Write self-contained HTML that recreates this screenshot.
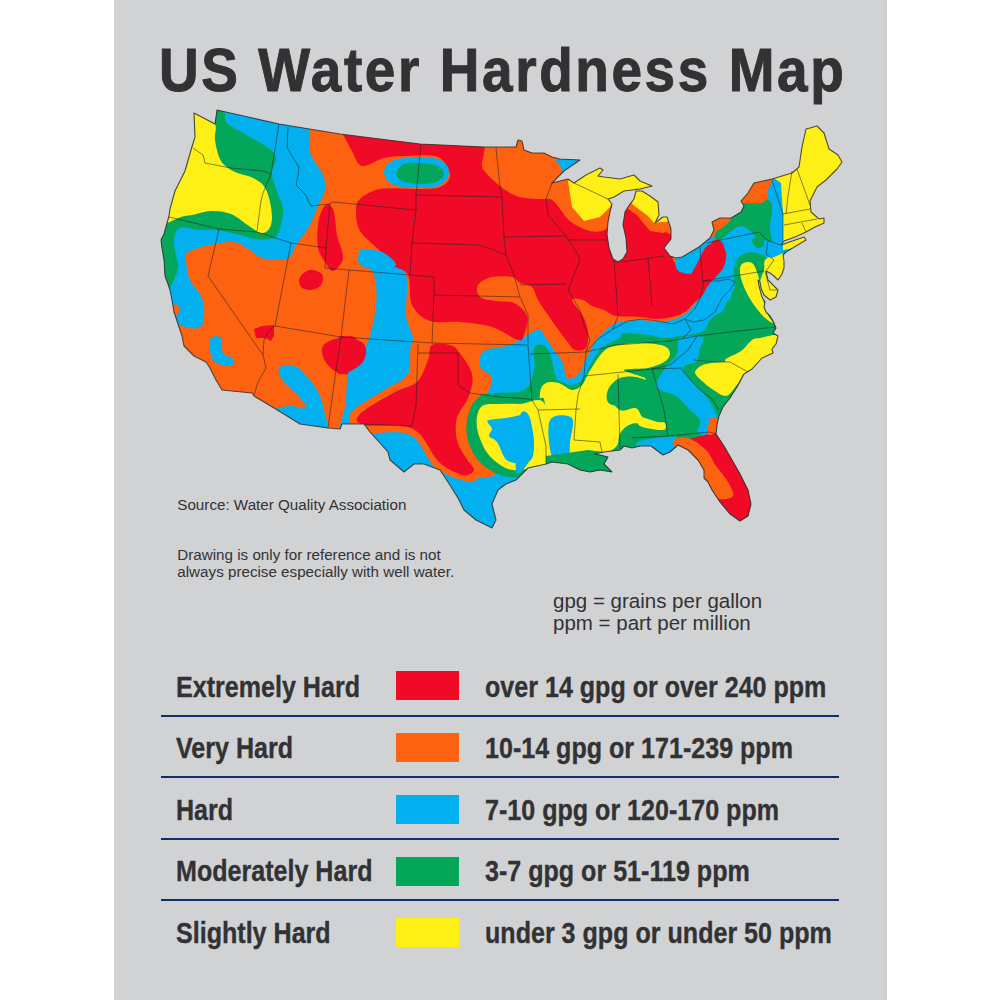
<!DOCTYPE html>
<html><head><meta charset="utf-8">
<style>
html,body{margin:0;padding:0;background:#fff;}
body{width:1000px;height:1000px;position:relative;overflow:hidden;font-family:"Liberation Sans",sans-serif;}
#panel{position:absolute;left:114px;top:0;width:773px;height:1000px;background:#d1d2d4;}
.t{position:absolute;white-space:nowrap;color:#333335;}
#title{left:159px;top:40px;font-size:61px;line-height:61px;letter-spacing:2.9px;transform-origin:0 0;transform:scaleX(0.9);-webkit-text-stroke:1px #323234;font-weight:bold;color:#323234;}
.sm{font-size:15.2px;line-height:16.2px;}
.lg{font-weight:bold;font-size:29.5px;line-height:30px;transform-origin:0 0;transform:scaleX(0.85);-webkit-text-stroke:0.35px #323234;color:#323234;}
.sw{position:absolute;left:396px;width:63px;height:29px;}
.hr{position:absolute;left:161px;width:678px;height:2px;background:#112f6e;}
</style></head><body>
<div id="panel"></div><div style="position:absolute;left:884px;top:0;width:3px;height:1000px;background:#cdced0"></div>
<div id="title" class="t">US Water Hardness Map</div>
<svg width="1000" height="1000" viewBox="0 0 1000 1000" style="position:absolute;left:0;top:0">
<defs><clipPath id="us"><path d="M194.0,113.0 L215.0,124.0 L217.0,110.0 L279.0,124.0 L340.0,134.0 L420.0,144.0 L484.0,147.0 L516.0,147.0 L518.0,140.0 L522.0,141.0 L524.0,150.0 L532.0,153.0 L544.0,153.0 L552.0,157.0 L560.0,159.0 L580.0,160.0 L564.0,171.0 L552.0,183.0 L568.0,179.0 L574.0,183.0 L586.0,175.0 L600.0,168.0 L603.0,170.0 L598.0,176.0 L604.0,177.0 L620.0,179.0 L634.0,175.0 L640.0,181.0 L652.0,186.0 L640.0,189.0 L624.0,191.0 L614.0,197.0 L608.0,199.0 L612.0,204.0 L610.0,212.0 L608.0,222.0 L607.0,234.0 L609.0,248.0 L613.0,259.0 L618.0,262.0 L623.0,259.0 L627.0,252.0 L626.0,238.0 L623.0,225.0 L625.0,212.0 L630.0,204.0 L634.0,199.0 L636.0,191.0 L642.0,191.0 L650.0,196.0 L658.0,202.0 L659.0,215.0 L655.0,223.0 L663.0,217.0 L667.0,217.0 L671.0,229.0 L671.0,239.0 L664.0,248.0 L670.0,256.0 L676.0,258.0 L682.0,257.0 L699.0,247.0 L710.0,238.0 L714.0,230.0 L712.0,222.0 L720.0,218.0 L731.0,218.0 L741.0,212.0 L744.0,206.0 L741.0,201.0 L748.0,193.0 L754.0,183.0 L772.0,179.0 L792.0,173.0 L799.0,167.0 L802.0,147.0 L806.0,129.0 L810.0,128.0 L817.0,126.0 L824.0,133.0 L829.0,149.0 L838.0,155.0 L842.0,162.0 L837.0,169.0 L826.0,180.0 L817.0,187.0 L810.0,201.0 L811.0,212.0 L819.0,219.0 L824.0,218.0 L824.0,223.0 L815.0,227.0 L806.0,232.0 L795.0,237.0 L784.0,241.0 L781.0,245.0 L804.0,237.0 L806.0,240.0 L786.0,252.0 L783.0,255.0 L784.0,261.0 L784.0,268.0 L782.0,274.0 L778.0,280.0 L774.0,276.0 L770.0,273.0 L766.0,271.0 L768.0,280.0 L774.0,286.0 L778.0,290.0 L776.0,297.0 L770.0,300.0 L764.0,295.0 L761.0,288.0 L760.0,282.0 L758.0,280.0 L759.0,286.0 L762.0,297.0 L765.0,302.0 L764.0,307.0 L766.0,312.0 L770.0,316.0 L773.0,321.0 L776.0,328.0 L773.0,333.0 L778.0,336.0 L776.0,344.0 L772.0,349.0 L773.0,353.0 L762.0,358.0 L752.0,369.0 L744.0,374.0 L737.0,387.0 L730.0,398.0 L723.0,407.0 L719.0,416.0 L717.0,425.0 L716.0,434.0 L724.0,446.0 L732.0,460.0 L740.0,474.0 L748.0,490.0 L751.0,504.0 L748.0,516.0 L740.0,521.0 L730.0,514.0 L720.0,502.0 L712.0,490.0 L708.0,482.0 L704.0,478.0 L704.0,470.0 L698.0,460.0 L688.0,450.0 L678.0,445.0 L670.0,452.0 L663.0,455.0 L651.0,446.0 L640.0,446.0 L632.0,448.0 L624.0,446.0 L620.0,450.0 L604.0,452.0 L594.0,454.0 L600.0,455.0 L608.0,457.0 L604.0,464.0 L612.0,472.0 L600.0,470.0 L590.0,472.0 L580.0,470.0 L568.0,464.0 L552.0,462.0 L546.0,464.0 L528.0,468.0 L520.0,476.0 L516.0,480.0 L506.0,484.0 L498.0,490.0 L492.0,504.0 L496.0,520.0 L492.0,528.0 L476.0,520.0 L464.0,510.0 L458.0,498.0 L448.0,482.0 L440.0,470.0 L424.0,464.0 L414.0,464.0 L404.0,472.0 L390.0,460.0 L388.0,452.0 L370.0,432.0 L364.0,424.0 L342.0,424.0 L340.0,429.0 L328.0,428.0 L300.0,424.0 L274.0,408.0 L254.0,396.0 L252.0,393.0 L222.0,390.0 L216.0,380.0 L210.0,368.0 L206.0,362.0 L194.0,356.0 L184.0,346.0 L182.0,336.0 L178.0,324.0 L174.0,312.0 L172.0,300.0 L170.0,290.0 L168.0,284.0 L165.0,276.0 L164.0,260.0 L162.0,248.0 L161.0,240.0 L164.0,234.0 L169.0,216.0 L170.0,209.0 L175.0,191.0 L185.0,171.0 L191.0,150.0 L195.0,137.0Z"/></clipPath></defs>
<g clip-path="url(#us)">
<rect x="100" y="90" width="800" height="460" fill="#fd6211"/>
<path d="M150.0,100.0 C176.3,66.7 281.3,96.0 308.0,100.0 C334.7,104.0 309.7,117.3 310.0,124.0 C310.3,130.7 309.8,134.8 310.0,140.0 C310.2,145.2 308.8,149.2 311.0,155.0 C313.2,160.8 320.7,169.2 323.0,175.0 C325.3,180.8 326.0,184.5 325.0,190.0 C324.0,195.5 319.7,201.8 317.0,208.0 C314.3,214.2 312.5,220.8 309.0,227.0 C305.5,233.2 299.2,240.0 296.0,245.0 C292.8,250.0 292.7,254.5 290.0,257.0 C287.3,259.5 284.7,259.8 280.0,260.0 C275.3,260.2 267.0,259.7 262.0,258.0 C257.0,256.3 254.7,252.7 250.0,250.0 C245.3,247.3 239.7,243.0 234.0,242.0 C228.3,241.0 222.0,243.0 216.0,244.0 C210.0,245.0 203.0,246.3 198.0,248.0 C193.0,249.7 188.0,251.7 186.0,254.0 C184.0,256.3 185.3,257.7 186.0,262.0 C186.7,266.3 187.3,274.0 190.0,280.0 C192.7,286.0 199.7,291.7 202.0,298.0 C204.3,304.3 204.7,313.0 204.0,318.0 C203.3,323.0 202.3,327.0 198.0,328.0 C193.7,329.0 186.0,328.7 178.0,324.0 C170.0,319.3 154.7,337.3 150.0,300.0 C145.3,262.7 123.7,133.3 150.0,100.0Z" fill="#02b0f0"/>
<path d="M150.0,100.0 C161.2,71.3 204.2,104.2 217.0,108.0 C229.8,111.8 222.7,118.8 227.0,123.0 C231.3,127.2 236.3,129.0 243.0,133.0 C249.7,137.0 261.5,143.0 267.0,147.0 C272.5,151.0 275.2,152.7 276.0,157.0 C276.8,161.3 272.0,167.7 272.0,173.0 C272.0,178.3 274.2,183.0 276.0,189.0 C277.8,195.0 282.3,202.5 283.0,209.0 C283.7,215.5 281.5,223.2 280.0,228.0 C278.5,232.8 278.0,236.2 274.0,238.0 C270.0,239.8 261.7,239.5 256.0,239.0 C250.3,238.5 246.7,236.5 240.0,235.0 C233.3,233.5 222.7,230.8 216.0,230.0 C209.3,229.2 206.0,230.3 200.0,230.0 C194.0,229.7 184.3,226.3 180.0,228.0 C175.7,229.7 174.7,235.3 174.0,240.0 C173.3,244.7 175.3,251.3 176.0,256.0 C176.7,260.7 178.7,263.3 178.0,268.0 C177.3,272.7 174.0,280.3 172.0,284.0 C170.0,287.7 169.7,290.7 166.0,290.0 C162.3,289.3 152.7,311.7 150.0,280.0 C147.3,248.3 138.8,128.7 150.0,100.0Z" fill="#04a65a"/>
<path d="M150.0,100.0 C158.3,82.7 189.2,108.0 200.0,112.0 C210.8,116.0 212.5,119.3 215.0,124.0 C217.5,128.7 214.0,133.8 215.0,140.0 C216.0,146.2 217.7,155.7 221.0,161.0 C224.3,166.3 230.0,169.3 235.0,172.0 C240.0,174.7 246.3,174.8 251.0,177.0 C255.7,179.2 260.0,181.5 263.0,185.0 C266.0,188.5 267.5,192.7 269.0,198.0 C270.5,203.3 272.0,211.8 272.0,217.0 C272.0,222.2 270.8,226.3 269.0,229.0 C267.2,231.7 264.3,233.5 261.0,233.0 C257.7,232.5 254.0,229.2 249.0,226.0 C244.0,222.8 237.3,216.5 231.0,214.0 C224.7,211.5 218.7,210.7 211.0,211.0 C203.3,211.3 195.2,215.2 185.0,216.0 C174.8,216.8 155.8,235.3 150.0,216.0 C144.2,196.7 141.7,117.3 150.0,100.0Z" fill="#fef016"/>
<path d="M172.0,306.0 C172.7,304.2 176.8,304.0 178.0,305.0 C179.2,306.0 179.7,310.2 179.0,312.0 C178.3,313.8 175.2,317.0 174.0,316.0 C172.8,315.0 171.3,307.8 172.0,306.0Z" fill="#fd6211"/>
<path d="M211.0,338.0 C212.8,336.0 219.0,335.5 221.0,338.0 C223.0,340.5 221.0,349.5 223.0,353.0 C225.0,356.5 231.7,356.8 233.0,359.0 C234.3,361.2 234.0,365.5 231.0,366.0 C228.0,366.5 218.5,364.7 215.0,362.0 C211.5,359.3 210.7,354.0 210.0,350.0 C209.3,346.0 209.2,340.0 211.0,338.0Z" fill="#02b0f0"/>
<path d="M328.0,204.0 C330.0,204.3 332.5,206.8 334.0,212.0 C335.5,217.2 335.5,227.3 337.0,235.0 C338.5,242.7 343.7,252.0 343.0,258.0 C342.3,264.0 336.0,270.3 333.0,271.0 C330.0,271.7 327.5,265.8 325.0,262.0 C322.5,258.2 319.2,254.2 318.0,248.0 C316.8,241.8 317.3,231.3 318.0,225.0 C318.7,218.7 320.3,213.5 322.0,210.0 C323.7,206.5 326.0,203.7 328.0,204.0Z" fill="#f00a27"/>
<path d="M300.0,277.0 C301.5,274.2 306.3,270.5 310.0,270.0 C313.7,269.5 320.2,271.5 322.0,274.0 C323.8,276.5 322.8,282.3 321.0,285.0 C319.2,287.7 314.3,289.7 311.0,290.0 C307.7,290.3 302.8,289.2 301.0,287.0 C299.2,284.8 298.5,279.8 300.0,277.0Z" fill="#f00a27"/>
<path d="M254.0,329.0 L262.0,326.0 L274.0,325.0 L274.0,336.0 L271.0,341.0 L265.0,338.0 L256.0,338.0Z" fill="#f00a27"/>
<path d="M323.0,346.0 C325.3,342.2 333.5,339.2 339.0,338.0 C344.5,336.8 353.0,333.7 356.0,339.0 C359.0,344.3 359.8,364.3 357.0,370.0 C354.2,375.7 344.3,374.5 339.0,373.0 C333.7,371.5 327.7,365.5 325.0,361.0 C322.3,356.5 320.7,349.8 323.0,346.0Z" fill="#f00a27"/>
<path d="M279.0,368.0 C280.2,365.8 284.8,365.0 288.0,365.0 C291.2,365.0 295.0,366.2 298.0,368.0 C301.0,369.8 303.3,373.2 306.0,376.0 C308.7,378.8 311.7,381.7 314.0,385.0 C316.3,388.3 318.3,391.8 320.0,396.0 C321.7,400.2 323.0,404.3 324.0,410.0 C325.0,415.7 330.0,427.3 326.0,430.0 C322.0,432.7 306.8,428.7 300.0,426.0 C293.2,423.3 289.0,416.8 285.0,414.0 C281.0,411.2 275.2,410.3 276.0,409.0 C276.8,407.7 285.0,406.2 290.0,406.0 C295.0,405.8 304.3,409.3 306.0,408.0 C307.7,406.7 302.7,401.3 300.0,398.0 C297.3,394.7 293.2,391.3 290.0,388.0 C286.8,384.7 282.8,381.3 281.0,378.0 C279.2,374.7 277.8,370.2 279.0,368.0Z" fill="#02b0f0"/>
<path d="M360.0,250.0 C362.0,246.7 378.3,250.8 386.0,255.0 C393.7,259.2 402.7,265.0 406.0,275.0 C409.3,285.0 404.7,304.0 406.0,315.0 C407.3,326.0 412.3,332.7 414.0,341.0 C415.7,349.3 418.3,357.3 416.0,365.0 C413.7,372.7 406.0,381.8 400.0,387.0 C394.0,392.2 386.7,391.8 380.0,396.0 C373.3,400.2 362.3,407.0 360.0,412.0 C357.7,417.0 357.3,422.7 366.0,426.0 C374.7,429.3 401.7,428.3 412.0,432.0 C422.3,435.7 420.0,441.3 428.0,448.0 C436.0,454.7 450.7,467.0 460.0,472.0 C469.3,477.0 477.3,478.3 484.0,478.0 C490.7,477.7 499.8,473.8 500.0,470.0 C500.2,466.2 490.0,463.3 485.0,455.0 C480.0,446.7 470.2,429.2 470.0,420.0 C469.8,410.8 480.3,407.0 484.0,400.0 C487.7,393.0 492.7,383.5 492.0,378.0 C491.3,372.5 481.3,371.5 480.0,367.0 C478.7,362.5 479.0,354.7 484.0,351.0 C489.0,347.3 501.2,348.5 510.0,345.0 C518.8,341.5 531.2,331.3 537.0,330.0 C542.8,328.7 541.8,333.2 545.0,337.0 C548.2,340.8 552.8,348.5 556.0,353.0 C559.2,357.5 562.3,360.0 564.0,364.0 C565.7,368.0 564.7,374.7 566.0,377.0 C567.3,379.3 570.0,378.5 572.0,378.0 C574.0,377.5 575.7,377.2 578.0,374.0 C580.3,370.8 583.0,364.7 586.0,359.0 C589.0,353.3 593.0,344.5 596.0,340.0 C599.0,335.5 601.0,334.7 604.0,332.0 C607.0,329.3 611.3,325.7 614.0,324.0 C616.7,322.3 615.7,322.7 620.0,322.0 C624.3,321.3 634.0,320.0 640.0,320.0 C646.0,320.0 650.7,322.0 656.0,322.0 C661.3,322.0 667.2,321.3 672.0,320.0 C676.8,318.7 681.3,316.5 685.0,314.0 C688.7,311.5 691.2,308.2 694.0,305.0 C696.8,301.8 699.5,298.5 702.0,295.0 C704.5,291.5 706.7,287.8 709.0,284.0 C711.3,280.2 713.3,276.7 716.0,272.0 C718.7,267.3 721.0,260.5 725.0,256.0 C729.0,251.5 734.2,248.0 740.0,245.0 C745.8,242.0 751.7,240.5 760.0,238.0 C768.3,235.5 785.0,169.7 790.0,230.0 C795.0,290.3 865.0,538.3 790.0,600.0 C715.0,661.7 414.0,633.3 340.0,600.0 C266.0,566.7 344.0,438.8 346.0,400.0 C348.0,361.2 348.3,376.8 352.0,367.0 C355.7,357.2 364.0,351.3 368.0,341.0 C372.0,330.7 375.0,316.0 376.0,305.0 C377.0,294.0 376.7,284.2 374.0,275.0 C371.3,265.8 358.0,253.3 360.0,250.0Z" fill="#02b0f0"/>
<path d="M414.0,340.0 C421.3,334.2 443.7,337.7 452.0,339.0 C460.3,340.3 459.7,342.5 464.0,348.0 C468.3,353.5 476.2,364.0 478.0,372.0 C479.8,380.0 477.3,388.3 475.0,396.0 C472.7,403.7 466.0,410.7 464.0,418.0 C462.0,425.3 461.7,433.3 463.0,440.0 C464.3,446.7 469.2,452.7 472.0,458.0 C474.8,463.3 480.3,468.0 480.0,472.0 C479.7,476.0 477.3,482.7 470.0,482.0 C462.7,481.3 446.0,475.8 436.0,468.0 C426.0,460.2 422.3,441.0 410.0,435.0 C397.7,429.0 372.0,435.5 362.0,432.0 C352.0,428.5 346.3,421.0 350.0,414.0 C353.7,407.0 374.3,396.7 384.0,390.0 C393.7,383.3 403.0,382.3 408.0,374.0 C413.0,365.7 406.7,345.8 414.0,340.0Z" fill="#fd6211"/>
<path d="M432.0,345.0 C435.7,342.5 445.5,343.8 450.0,345.0 C454.5,346.2 455.3,347.2 459.0,352.0 C462.7,356.8 470.3,366.7 472.0,374.0 C473.7,381.3 471.5,388.7 469.0,396.0 C466.5,403.3 459.0,410.7 457.0,418.0 C455.0,425.3 455.5,433.3 457.0,440.0 C458.5,446.7 463.2,453.0 466.0,458.0 C468.8,463.0 474.5,467.2 474.0,470.0 C473.5,472.8 468.8,476.3 463.0,475.0 C457.2,473.7 447.3,469.7 439.0,462.0 C430.7,454.3 425.5,435.2 413.0,429.0 C400.5,422.8 372.8,427.5 364.0,425.0 C355.2,422.5 354.8,419.5 360.0,414.0 C365.2,408.5 385.5,397.3 395.0,392.0 C404.5,386.7 411.5,387.3 417.0,382.0 C422.5,376.7 425.5,366.2 428.0,360.0 C430.5,353.8 428.3,347.5 432.0,345.0Z" fill="#f00a27"/>
<path d="M338.0,338.0 C341.7,332.7 355.3,338.8 360.0,341.0 C364.7,343.2 366.0,347.0 366.0,351.0 C366.0,355.0 364.7,361.3 360.0,365.0 C355.3,368.7 341.7,377.5 338.0,373.0 C334.3,368.5 334.3,343.3 338.0,338.0Z" fill="#f00a27"/>
<path d="M343.0,130.0 C348.8,129.7 367.2,134.3 380.0,136.0 C392.8,137.7 402.7,138.7 420.0,140.0 C437.3,141.3 473.0,142.7 484.0,144.0 C495.0,145.3 486.3,144.5 486.0,148.0 C485.7,151.5 481.7,160.5 482.0,165.0 C482.3,169.5 484.3,171.0 488.0,175.0 C491.7,179.0 498.7,185.3 504.0,189.0 C509.3,192.7 514.0,195.3 520.0,197.0 C526.0,198.7 535.0,198.7 540.0,199.0 C545.0,199.3 547.0,197.8 550.0,199.0 C553.0,200.2 554.7,202.3 558.0,206.0 C561.3,209.7 564.7,216.8 570.0,221.0 C575.3,225.2 584.0,229.7 590.0,231.0 C596.0,232.3 602.3,231.7 606.0,229.0 C609.7,226.3 609.7,218.2 612.0,215.0 C614.3,211.8 617.0,211.3 620.0,210.0 C623.0,208.7 625.3,204.2 630.0,207.0 C634.7,209.8 641.7,222.7 648.0,227.0 C654.3,231.3 664.0,230.8 668.0,233.0 C672.0,235.2 671.0,235.2 672.0,240.0 C673.0,244.8 671.0,257.3 674.0,262.0 C677.0,266.7 685.7,267.3 690.0,268.0 C694.3,268.7 697.2,269.7 700.0,266.0 C702.8,262.3 703.7,249.7 707.0,246.0 C710.3,242.3 716.8,242.8 720.0,244.0 C723.2,245.2 725.5,249.0 726.0,253.0 C726.5,257.0 725.8,262.8 723.0,268.0 C720.2,273.2 712.5,279.3 709.0,284.0 C705.5,288.7 704.5,292.8 702.0,296.0 C699.5,299.2 696.8,300.3 694.0,303.0 C691.2,305.7 688.7,309.7 685.0,312.0 C681.3,314.3 676.8,315.8 672.0,317.0 C667.2,318.2 661.3,319.0 656.0,319.0 C650.7,319.0 646.7,317.5 640.0,317.0 C633.3,316.5 622.0,317.2 616.0,316.0 C610.0,314.8 608.0,311.7 604.0,310.0 C600.0,308.3 595.5,307.7 592.0,306.0 C588.5,304.3 586.3,301.0 583.0,300.0 C579.7,299.0 572.0,297.3 572.0,300.0 C572.0,302.7 580.3,310.7 583.0,316.0 C585.7,321.3 587.5,326.7 588.0,332.0 C588.5,337.3 588.2,345.0 586.0,348.0 C583.8,351.0 578.3,351.3 575.0,350.0 C571.7,348.7 570.2,345.3 566.0,340.0 C561.8,334.7 554.7,324.7 550.0,318.0 C545.3,311.3 541.0,305.2 538.0,300.0 C535.0,294.8 535.0,289.8 532.0,287.0 C529.0,284.2 523.3,284.7 520.0,283.0 C516.7,281.3 516.7,278.0 512.0,277.0 C507.3,276.0 497.7,275.7 492.0,277.0 C486.3,278.3 480.0,281.7 478.0,285.0 C476.0,288.3 477.0,294.3 480.0,297.0 C483.0,299.7 490.3,300.0 496.0,301.0 C501.7,302.0 508.8,300.5 514.0,303.0 C519.2,305.5 525.3,310.7 527.0,316.0 C528.7,321.3 525.5,331.0 524.0,335.0 C522.5,339.0 523.3,341.3 518.0,340.0 C512.7,338.7 501.7,330.0 492.0,327.0 C482.3,324.0 470.3,323.0 460.0,322.0 C449.7,321.0 438.0,323.8 430.0,321.0 C422.0,318.2 415.7,312.7 412.0,305.0 C408.3,297.3 411.3,281.7 408.0,275.0 C404.7,268.3 396.7,269.0 392.0,265.0 C387.3,261.0 385.3,256.7 380.0,251.0 C374.7,245.3 364.0,237.7 360.0,231.0 C356.0,224.3 356.0,216.3 356.0,211.0 C356.0,205.7 356.0,202.7 360.0,199.0 C364.0,195.3 370.7,190.7 380.0,189.0 C389.3,187.3 406.0,189.3 416.0,189.0 C426.0,188.7 434.3,189.3 440.0,187.0 C445.7,184.7 450.3,180.0 450.0,175.0 C449.7,170.0 445.3,160.2 438.0,157.0 C430.7,153.8 415.0,155.8 406.0,156.0 C397.0,156.2 391.3,156.3 384.0,158.0 C376.7,159.7 367.3,167.2 362.0,166.0 C356.7,164.8 354.8,155.7 352.0,151.0 C349.2,146.3 346.5,141.5 345.0,138.0 C343.5,134.5 337.2,130.3 343.0,130.0Z" fill="#f00a27"/>
<path d="M384.0,172.0 C384.0,168.2 386.7,163.5 392.0,161.0 C397.3,158.5 408.0,157.2 416.0,157.0 C424.0,156.8 434.5,157.5 440.0,160.0 C445.5,162.5 449.0,167.8 449.0,172.0 C449.0,176.2 445.5,182.3 440.0,185.0 C434.5,187.7 424.0,188.2 416.0,188.0 C408.0,187.8 397.3,186.7 392.0,184.0 C386.7,181.3 384.0,175.8 384.0,172.0Z" fill="#02b0f0"/>
<path d="M396.0,173.0 C396.3,170.2 400.0,165.7 404.0,164.0 C408.0,162.3 414.3,162.7 420.0,163.0 C425.7,163.3 434.0,164.2 438.0,166.0 C442.0,167.8 444.3,171.3 444.0,174.0 C443.7,176.7 440.0,180.3 436.0,182.0 C432.0,183.7 425.7,184.2 420.0,184.0 C414.3,183.8 406.0,182.8 402.0,181.0 C398.0,179.2 395.7,175.8 396.0,173.0Z" fill="#04a65a"/>
<path d="M358.0,255.0 C359.3,252.3 365.7,250.3 370.0,250.0 C374.3,249.7 379.7,250.5 384.0,253.0 C388.3,255.5 396.7,262.2 396.0,265.0 C395.3,267.8 385.7,269.8 380.0,270.0 C374.3,270.2 365.7,268.5 362.0,266.0 C358.3,263.5 356.7,257.7 358.0,255.0Z" fill="#02b0f0"/>
<path d="M470.0,412.0 C468.5,409.3 477.3,398.7 481.0,396.0 C484.7,393.3 484.8,397.0 492.0,396.0 C499.2,395.0 517.0,394.3 524.0,390.0 C531.0,385.7 532.3,377.0 534.0,370.0 C535.7,363.0 532.5,352.2 534.0,348.0 C535.5,343.8 540.3,344.0 543.0,345.0 C545.7,346.0 547.8,348.7 550.0,354.0 C552.2,359.3 554.0,372.3 556.0,377.0 C558.0,381.7 559.3,380.7 562.0,382.0 C564.7,383.3 568.7,385.3 572.0,385.0 C575.3,384.7 579.3,382.7 582.0,380.0 C584.7,377.3 586.0,372.7 588.0,369.0 C590.0,365.3 591.8,361.5 594.0,358.0 C596.2,354.5 598.0,350.7 601.0,348.0 C604.0,345.3 608.8,343.7 612.0,342.0 C615.2,340.3 618.0,339.5 620.0,338.0 C622.0,336.5 619.3,333.5 624.0,333.0 C628.7,332.5 641.3,334.2 648.0,335.0 C654.7,335.8 658.7,337.8 664.0,338.0 C669.3,338.2 673.7,337.0 680.0,336.0 C686.3,335.0 697.2,334.3 702.0,332.0 C706.8,329.7 706.8,324.7 709.0,322.0 C711.2,319.3 712.7,317.8 715.0,316.0 C717.3,314.2 720.8,313.7 723.0,311.0 C725.2,308.3 726.3,303.5 728.0,300.0 C729.7,296.5 730.7,293.0 733.0,290.0 C735.3,287.0 738.8,282.0 742.0,282.0 C745.2,282.0 747.3,287.0 752.0,290.0 C756.7,293.0 763.7,295.0 770.0,300.0 C776.3,305.0 786.7,270.0 790.0,320.0 C793.3,370.0 830.8,553.3 790.0,600.0 C749.2,646.7 585.8,628.3 545.0,600.0 C504.2,571.7 549.2,462.0 545.0,430.0 C540.8,398.0 529.2,411.0 520.0,408.0 C510.8,405.0 498.3,411.3 490.0,412.0 C481.7,412.7 471.5,414.7 470.0,412.0Z" fill="#04a65a"/>
<path d="M677.0,354.0 C674.3,359.3 667.5,364.7 664.0,370.0 C660.5,375.3 656.0,380.7 656.0,386.0 C656.0,391.3 660.7,397.7 664.0,402.0 C667.3,406.3 671.7,409.0 676.0,412.0 C680.3,415.0 686.0,416.3 690.0,420.0 C694.0,423.7 695.7,430.7 700.0,434.0 C704.3,437.3 713.0,442.3 716.0,440.0 C719.0,437.7 718.7,425.8 718.0,420.0 C717.3,414.2 714.3,409.3 712.0,405.0 C709.7,400.7 707.7,398.2 704.0,394.0 C700.3,389.8 693.5,384.0 690.0,380.0 C686.5,376.0 683.7,372.5 683.0,370.0 C682.3,367.5 683.8,366.3 686.0,365.0 C688.2,363.7 693.8,363.8 696.0,362.0 C698.2,360.2 697.7,358.0 699.0,354.0 C700.3,350.0 707.2,340.7 704.0,338.0 C700.8,335.3 684.5,335.3 680.0,338.0 C675.5,340.7 679.7,348.7 677.0,354.0Z" fill="#02b0f0"/>
<path d="M640.0,378.0 C641.3,372.0 654.0,387.0 660.0,390.0 C666.0,393.0 671.0,392.7 676.0,396.0 C681.0,399.3 686.0,406.0 690.0,410.0 C694.0,414.0 699.0,416.7 700.0,420.0 C701.0,423.3 700.0,427.2 696.0,430.0 C692.0,432.8 681.3,436.0 676.0,437.0 C670.7,438.0 668.0,437.8 664.0,436.0 C660.0,434.2 656.0,435.7 652.0,426.0 C648.0,416.3 638.7,384.0 640.0,378.0Z" fill="#04a65a"/>
<path d="M540.0,420.0 C540.3,407.2 539.0,399.2 540.0,393.0 C541.0,386.8 542.8,384.7 546.0,383.0 C549.2,381.3 554.7,381.8 559.0,383.0 C563.3,384.2 568.2,389.7 572.0,390.0 C575.8,390.3 579.3,387.7 582.0,385.0 C584.7,382.3 585.7,378.0 588.0,374.0 C590.3,370.0 593.3,364.8 596.0,361.0 C598.7,357.2 601.0,353.5 604.0,351.0 C607.0,348.5 608.0,347.3 614.0,346.0 C620.0,344.7 631.7,343.0 640.0,343.0 C648.3,343.0 659.0,344.2 664.0,346.0 C669.0,347.8 670.0,351.3 670.0,354.0 C670.0,356.7 667.7,359.7 664.0,362.0 C660.3,364.3 654.7,366.7 648.0,368.0 C641.3,369.3 624.5,368.3 624.0,370.0 C623.5,371.7 642.3,376.0 645.0,378.0 C647.7,380.0 642.2,381.7 640.0,382.0 C637.8,382.3 637.3,378.5 632.0,380.0 C626.7,381.5 610.0,386.0 608.0,391.0 C606.0,396.0 615.3,407.2 620.0,410.0 C624.7,412.8 632.0,406.7 636.0,408.0 C640.0,409.3 639.3,415.7 644.0,418.0 C648.7,420.3 660.7,420.0 664.0,422.0 C667.3,424.0 666.0,429.3 664.0,430.0 C662.0,430.7 657.3,427.0 652.0,426.0 C646.7,425.0 637.3,422.7 632.0,424.0 C626.7,425.3 623.3,429.7 620.0,434.0 C616.7,438.3 622.0,444.0 612.0,450.0 C602.0,456.0 572.3,466.7 560.0,470.0 C547.7,473.3 541.3,478.3 538.0,470.0 C534.7,461.7 539.7,432.8 540.0,420.0Z" fill="#fef016"/>
<path d="M608.0,390.0 C609.7,385.7 614.7,380.0 620.0,378.0 C625.3,376.0 633.3,376.0 640.0,378.0 C646.7,380.0 656.0,384.7 660.0,390.0 C664.0,395.3 663.3,404.7 664.0,410.0 C664.7,415.3 667.3,420.7 664.0,422.0 C660.7,423.3 648.7,420.3 644.0,418.0 C639.3,415.7 641.7,410.3 636.0,408.0 C630.3,405.7 614.7,407.0 610.0,404.0 C605.3,401.0 606.3,394.3 608.0,390.0Z" fill="#04a65a"/>
<path d="M620.0,434.0 C621.7,430.3 626.7,425.3 632.0,424.0 C637.3,422.7 646.7,425.0 652.0,426.0 C657.3,427.0 661.3,427.7 664.0,430.0 C666.7,432.3 672.0,437.3 668.0,440.0 C664.0,442.7 647.7,445.0 640.0,446.0 C632.3,447.0 625.3,448.0 622.0,446.0 C618.7,444.0 618.3,437.7 620.0,434.0Z" fill="#04a65a"/>
<path d="M640.0,417.0 C643.8,416.8 659.3,422.8 663.0,425.0 C666.7,427.2 665.8,429.8 662.0,430.0 C658.2,430.2 643.7,428.2 640.0,426.0 C636.3,423.8 636.2,417.2 640.0,417.0Z" fill="#fef016"/>
<path d="M640.0,441.0 C646.0,438.8 669.7,435.8 676.0,437.0 C682.3,438.2 680.2,445.0 678.0,448.0 C675.8,451.0 669.3,454.7 663.0,455.0 C656.7,455.3 643.8,452.3 640.0,450.0 C636.2,447.7 634.0,443.2 640.0,441.0Z" fill="#02b0f0"/>
<path d="M480.0,396.0 C484.5,392.8 489.3,393.5 496.0,393.0 C502.7,392.5 513.0,392.2 520.0,393.0 C527.0,393.8 533.8,396.0 538.0,398.0 C542.2,400.0 543.8,393.0 545.0,405.0 C546.2,417.0 547.2,458.8 545.0,470.0 C542.8,481.2 535.5,470.8 532.0,472.0 C528.5,473.2 529.3,476.5 524.0,477.0 C518.7,477.5 507.7,477.8 500.0,475.0 C492.3,472.2 483.5,466.5 478.0,460.0 C472.5,453.5 468.5,444.0 467.0,436.0 C465.5,428.0 466.8,418.7 469.0,412.0 C471.2,405.3 475.5,399.2 480.0,396.0Z" fill="#04a65a"/>
<path d="M481.0,407.0 C484.8,403.0 493.5,404.5 500.0,404.0 C506.5,403.5 512.5,403.8 520.0,404.0 C527.5,404.2 540.8,394.3 545.0,405.0 C549.2,415.7 548.0,457.3 545.0,468.0 C542.0,478.7 533.2,468.8 527.0,469.0 C520.8,469.2 514.5,471.5 508.0,469.0 C501.5,466.5 493.2,460.8 488.0,454.0 C482.8,447.2 478.2,435.8 477.0,428.0 C475.8,420.2 477.2,411.0 481.0,407.0Z" fill="#fef016"/>
<path d="M489.0,420.0 C492.0,419.2 500.2,418.8 506.0,418.0 C511.8,417.2 520.0,414.7 524.0,415.0 C528.0,415.3 528.3,415.5 530.0,420.0 C531.7,424.5 534.0,435.2 534.0,442.0 C534.0,448.8 534.3,457.8 530.0,461.0 C525.7,464.2 513.5,464.2 508.0,461.0 C502.5,457.8 500.2,446.2 497.0,442.0 C493.8,437.8 489.8,438.2 489.0,436.0 C488.2,433.8 492.2,431.2 492.0,429.0 C491.8,426.8 488.5,424.5 488.0,423.0 C487.5,421.5 486.0,420.8 489.0,420.0Z" fill="#02b0f0"/>
<path d="M550.0,420.0 C553.3,413.7 568.7,414.3 572.0,418.0 C575.3,421.7 570.7,435.7 570.0,442.0 C569.3,448.3 571.0,453.7 568.0,456.0 C565.0,458.3 555.0,462.0 552.0,456.0 C549.0,450.0 546.7,426.3 550.0,420.0Z" fill="#02b0f0"/>
<path d="M520.0,416.0 C522.3,407.3 528.0,412.3 530.0,418.0 C532.0,423.7 532.7,442.0 532.0,450.0 C531.3,458.0 528.7,462.7 526.0,466.0 C523.3,469.3 517.0,478.3 516.0,470.0 C515.0,461.7 517.7,424.7 520.0,416.0Z" fill="#02b0f0"/>
<path d="M546.0,456.0 L588.0,450.0 L604.0,452.0 L612.0,472.0 L590.0,474.0 L546.0,470.0Z" fill="#04a65a"/>
<path d="M562.0,353.0 C565.0,350.7 578.7,350.3 582.0,353.0 C585.3,355.7 583.7,364.8 582.0,369.0 C580.3,373.2 574.7,376.7 572.0,378.0 C569.3,379.3 567.3,378.8 566.0,377.0 C564.7,375.2 564.7,371.0 564.0,367.0 C563.3,363.0 559.0,355.3 562.0,353.0Z" fill="#fd6211"/>
<path d="M733.0,290.0 C735.3,287.0 741.2,283.3 742.0,282.0 C742.8,280.7 736.3,279.3 738.0,282.0 C739.7,284.7 747.5,293.2 752.0,298.0 C756.5,302.8 761.3,306.7 765.0,311.0 C768.7,315.3 772.0,319.5 774.0,324.0 C776.0,328.5 777.7,333.8 777.0,338.0 C776.3,342.2 774.2,343.8 770.0,349.0 C765.8,354.2 756.3,364.8 752.0,369.0 C747.7,373.2 746.5,371.0 744.0,374.0 C741.5,377.0 740.2,389.3 737.0,387.0 C733.8,384.7 730.2,363.8 725.0,360.0 C719.8,356.2 710.3,365.0 706.0,364.0 C701.7,363.0 699.3,358.3 699.0,354.0 C698.7,349.7 702.3,343.3 704.0,338.0 C705.7,332.7 707.2,325.7 709.0,322.0 C710.8,318.3 712.7,317.8 715.0,316.0 C717.3,314.2 720.8,313.7 723.0,311.0 C725.2,308.3 726.3,303.5 728.0,300.0 C729.7,296.5 730.7,293.0 733.0,290.0Z" fill="#04a65a"/>
<path d="M696.0,370.0 C697.7,368.2 700.2,365.3 706.0,364.0 C711.8,362.7 724.7,361.0 731.0,362.0 C737.3,363.0 742.5,367.0 744.0,370.0 C745.5,373.0 741.3,377.3 740.0,380.0 C738.7,382.7 738.3,383.3 736.0,386.0 C733.7,388.7 730.0,395.5 726.0,396.0 C722.0,396.5 716.0,391.5 712.0,389.0 C708.0,386.5 704.7,383.3 702.0,381.0 C699.3,378.7 697.0,376.8 696.0,375.0 C695.0,373.2 694.3,371.8 696.0,370.0Z" fill="#fef016"/>
<path d="M725.0,360.0 C726.0,357.5 736.5,354.3 741.0,351.0 C745.5,347.7 748.8,342.2 752.0,340.0 C755.2,337.8 755.7,338.7 760.0,338.0 C764.3,337.3 776.0,333.0 778.0,336.0 C780.0,339.0 777.7,349.7 772.0,356.0 C766.3,362.3 750.2,372.3 744.0,374.0 C737.8,375.7 738.2,368.3 735.0,366.0 C731.8,363.7 724.0,362.5 725.0,360.0Z" fill="#fef016"/>
<path d="M686.0,440.0 L708.0,434.0 L720.0,432.0 L770.0,470.0 L770.0,530.0 L700.0,530.0 L700.0,470.0 L694.0,456.0Z" fill="#f00a27"/>
<path d="M674.0,440.0 C676.0,438.3 682.7,436.3 688.0,438.0 C693.3,439.7 701.3,445.3 706.0,450.0 C710.7,454.7 712.3,460.7 716.0,466.0 C719.7,471.3 725.2,477.0 728.0,482.0 C730.8,487.0 734.3,493.2 733.0,496.0 C731.7,498.8 723.5,499.7 720.0,499.0 C716.5,498.3 714.7,495.2 712.0,492.0 C709.3,488.8 706.3,485.0 704.0,480.0 C701.7,475.0 700.7,466.7 698.0,462.0 C695.3,457.3 691.7,454.3 688.0,452.0 C684.3,449.7 678.3,450.0 676.0,448.0 C673.7,446.0 672.0,441.7 674.0,440.0Z" fill="#fd6211"/>
<path d="M710.0,419.0 C711.5,416.5 716.0,416.8 717.0,419.0 C718.0,421.2 717.5,429.5 716.0,432.0 C714.5,434.5 709.0,436.2 708.0,434.0 C707.0,431.8 708.5,421.5 710.0,419.0Z" fill="#fd6211"/>
<path d="M676.0,258.0 C677.7,254.3 684.8,253.0 690.0,250.0 C695.2,247.0 698.5,244.0 707.0,240.0 C715.5,236.0 732.7,228.2 741.0,226.0 C749.3,223.8 752.2,226.7 757.0,227.0 C761.8,227.3 768.2,235.3 770.0,228.0 C771.8,220.7 766.2,190.5 768.0,183.0 C769.8,175.5 778.5,180.0 781.0,183.0 C783.5,186.0 781.5,189.8 783.0,201.0 C784.5,212.2 789.5,238.5 790.0,250.0 C790.5,261.5 790.0,268.0 786.0,270.0 C782.0,272.0 773.2,264.8 766.0,262.0 C758.8,259.2 748.0,252.3 743.0,253.0 C738.0,253.7 736.3,261.2 736.0,266.0 C735.7,270.8 741.5,278.0 741.0,282.0 C740.5,286.0 735.2,287.0 733.0,290.0 C730.8,293.0 732.0,301.0 728.0,300.0 C724.0,299.0 709.8,289.3 709.0,284.0 C708.2,278.7 720.2,273.2 723.0,268.0 C725.8,262.8 729.0,252.3 726.0,253.0 C723.0,253.7 712.7,268.8 705.0,272.0 C697.3,275.2 684.8,274.3 680.0,272.0 C675.2,269.7 674.3,261.7 676.0,258.0Z" fill="#02b0f0"/>
<path d="M698.0,262.0 C700.8,256.3 703.3,249.0 707.0,246.0 C710.7,243.0 716.8,242.8 720.0,244.0 C723.2,245.2 725.5,249.0 726.0,253.0 C726.5,257.0 725.8,262.8 723.0,268.0 C720.2,273.2 712.5,280.3 709.0,284.0 C705.5,287.7 705.2,290.7 702.0,290.0 C698.8,289.3 690.7,284.7 690.0,280.0 C689.3,275.3 695.2,267.7 698.0,262.0Z" fill="#f00a27"/>
<path d="M716.0,232.0 C719.5,225.8 732.0,208.2 741.0,203.0 C750.0,197.8 765.2,196.8 770.0,201.0 C774.8,205.2 769.7,220.7 770.0,228.0 C770.3,235.3 773.7,243.0 772.0,245.0 C770.3,247.0 765.2,243.2 760.0,240.0 C754.8,236.8 747.7,226.0 741.0,226.0 C734.3,226.0 724.2,239.0 720.0,240.0 C715.8,241.0 712.5,238.2 716.0,232.0Z" fill="#04a65a"/>
<path d="M752.0,239.0 C753.3,237.2 762.7,236.2 765.0,237.0 C767.3,237.8 767.3,242.2 766.0,244.0 C764.7,245.8 759.3,248.8 757.0,248.0 C754.7,247.2 750.7,240.8 752.0,239.0Z" fill="#04a65a"/>
<path d="M741.0,201.0 C741.8,197.7 749.0,186.5 754.0,183.0 C759.0,179.5 768.7,178.8 771.0,180.0 C773.3,181.2 769.2,186.3 768.0,190.0 C766.8,193.7 767.2,199.8 764.0,202.0 C760.8,204.2 752.8,203.2 749.0,203.0 C745.2,202.8 740.2,204.3 741.0,201.0Z" fill="#fd6211"/>
<path d="M712.0,219.0 C714.5,217.0 729.2,216.7 731.0,218.0 C732.8,219.3 725.5,225.0 723.0,227.0 C720.5,229.0 717.8,231.3 716.0,230.0 C714.2,228.7 709.5,221.0 712.0,219.0Z" fill="#fd6211"/>
<path d="M735.0,264.0 C736.8,257.8 741.8,254.7 746.0,253.0 C750.2,251.3 756.3,252.5 760.0,254.0 C763.7,255.5 767.7,256.8 768.0,262.0 C768.3,267.2 761.7,277.0 762.0,285.0 C762.3,293.0 767.7,302.5 770.0,310.0 C772.3,317.5 781.0,326.7 776.0,330.0 C771.0,333.3 746.8,336.7 740.0,330.0 C733.2,323.3 735.8,301.0 735.0,290.0 C734.2,279.0 733.2,270.2 735.0,264.0Z" fill="#04a65a"/>
<path d="M742.0,264.0 C744.0,262.3 749.3,261.2 752.0,263.0 C754.7,264.8 756.5,270.5 758.0,275.0 C759.5,279.5 760.0,285.3 761.0,290.0 C762.0,294.7 762.8,298.8 764.0,303.0 C765.2,307.2 766.5,311.7 768.0,315.0 C769.5,318.3 773.7,322.7 773.0,323.0 C772.3,323.3 767.5,320.5 764.0,317.0 C760.5,313.5 755.3,307.0 752.0,302.0 C748.7,297.0 746.0,291.8 744.0,287.0 C742.0,282.2 740.3,276.8 740.0,273.0 C739.7,269.2 740.0,265.7 742.0,264.0Z" fill="#fef016"/>
<path d="M766.0,259.0 C769.2,256.3 779.7,252.2 783.0,254.0 C786.3,255.8 786.8,265.5 786.0,270.0 C785.2,274.5 779.3,276.0 778.0,281.0 C776.7,286.0 779.7,296.5 778.0,300.0 C776.3,303.5 771.0,304.5 768.0,302.0 C765.0,299.5 760.7,290.3 760.0,285.0 C759.3,279.7 763.0,274.3 764.0,270.0 C765.0,265.7 762.8,261.7 766.0,259.0Z" fill="#fef016"/>
<path d="M764.0,240.0 L783.0,243.0 L781.0,254.0 L772.0,258.0 L765.0,255.0Z" fill="#02b0f0"/>
<path d="M774.0,178.0 L792.0,170.0 L800.0,140.0 L810.0,120.0 L850.0,150.0 L840.0,240.0 L783.0,250.0 L783.0,214.0 L781.0,183.0Z" fill="#fef016"/>
<path d="M712.0,242.0 C713.2,240.3 717.0,239.3 719.0,240.0 C721.0,240.7 723.8,244.0 724.0,246.0 C724.2,248.0 722.0,251.3 720.0,252.0 C718.0,252.7 713.3,251.7 712.0,250.0 C710.7,248.3 710.8,243.7 712.0,242.0Z" fill="#f00a27"/>
<path d="M486.0,140.0 L580.0,150.0 L580.0,175.0 L552.0,185.0 L550.0,199.0 L520.0,197.0 L504.0,189.0 L488.0,175.0 L482.0,165.0Z" fill="#fd6211"/>
<path d="M556.0,159.0 C559.7,157.8 580.7,155.8 582.0,158.0 C583.3,160.2 567.7,170.8 564.0,172.0 C560.3,173.2 561.3,167.2 560.0,165.0 C558.7,162.8 552.3,160.2 556.0,159.0Z" fill="#02b0f0"/>
<path d="M550.0,182.0 L612.0,180.0 L612.0,215.0 L606.0,229.0 L590.0,231.0 L570.0,221.0 L558.0,206.0Z" fill="#fd6211"/>
<path d="M568.0,181.0 L600.0,165.0 L660.0,178.0 L652.0,190.0 L614.0,199.0 L610.0,207.0 L600.0,217.0 L584.0,221.0 L572.0,207.0Z" fill="#fef016"/>
<path d="M626.0,205.0 L636.0,188.0 L672.0,200.0 L674.0,228.0 L663.0,233.0 L650.0,231.0 L645.0,225.0 L638.0,216.0 L627.0,208.0Z" fill="#fd6211"/>
<path d="M634.0,195.0 L636.0,188.0 L660.0,198.0 L670.0,221.0 L666.0,222.0 L661.0,222.0 L654.0,223.0 L648.0,216.0 L640.0,210.0 L632.0,204.0Z" fill="#fef016"/>
</g>
<path d="M193.0,148.0 L203.0,155.0 L205.0,163.0 L231.0,168.0 L263.0,171.0 L271.0,174.0" fill="none" stroke="#222" stroke-width="0.85" stroke-linejoin="round" opacity="0.65"/>
<path d="M279.0,124.0 L271.0,174.0 L263.0,193.0 L261.0,201.0 L257.0,231.0" fill="none" stroke="#222" stroke-width="0.85" stroke-linejoin="round" opacity="0.65"/>
<path d="M169.0,217.0 L219.0,229.0 L257.0,232.0 L291.0,243.0 L327.0,248.0" fill="none" stroke="#222" stroke-width="0.85" stroke-linejoin="round" opacity="0.65"/>
<path d="M288.0,127.0 L287.0,147.0 L293.0,158.0 L299.0,167.0 L298.0,176.0 L296.0,185.0 L305.0,194.0 L311.0,206.0 L329.0,204.0 L333.0,202.0" fill="none" stroke="#222" stroke-width="0.85" stroke-linejoin="round" opacity="0.65"/>
<path d="M330.0,204.0 L326.0,248.0 L325.0,268.0 L349.0,270.0" fill="none" stroke="#222" stroke-width="0.85" stroke-linejoin="round" opacity="0.65"/>
<path d="M333.0,202.0 L416.0,210.0" fill="none" stroke="#222" stroke-width="0.85" stroke-linejoin="round" opacity="0.65"/>
<path d="M421.0,145.0 L416.0,195.0 L416.0,210.0 L412.0,243.0 L410.0,275.0" fill="none" stroke="#222" stroke-width="0.85" stroke-linejoin="round" opacity="0.65"/>
<path d="M416.0,195.0 L502.0,197.0" fill="none" stroke="#222" stroke-width="0.85" stroke-linejoin="round" opacity="0.65"/>
<path d="M219.0,229.0 L208.0,276.0 L263.0,355.0 L266.0,368.0 L258.0,382.0 L254.0,395.0" fill="none" stroke="#222" stroke-width="0.85" stroke-linejoin="round" opacity="0.65"/>
<path d="M291.0,243.0 L275.0,326.0 L268.0,332.0 L264.0,340.0 L263.0,355.0" fill="none" stroke="#222" stroke-width="0.85" stroke-linejoin="round" opacity="0.65"/>
<path d="M275.0,326.0 L341.0,337.0 L432.0,343.0 L528.0,345.0" fill="none" stroke="#222" stroke-width="0.85" stroke-linejoin="round" opacity="0.65"/>
<path d="M349.0,270.0 L341.0,337.0 L336.0,370.0 L328.0,428.0" fill="none" stroke="#222" stroke-width="0.85" stroke-linejoin="round" opacity="0.65"/>
<path d="M349.0,270.0 L410.0,275.0 L434.0,277.0 L434.0,295.0 L520.0,297.0" fill="none" stroke="#222" stroke-width="0.85" stroke-linejoin="round" opacity="0.65"/>
<path d="M434.0,295.0 L432.0,343.0" fill="none" stroke="#222" stroke-width="0.85" stroke-linejoin="round" opacity="0.65"/>
<path d="M418.0,344.0 L416.0,405.0 L412.0,426.0 L364.0,424.0" fill="none" stroke="#222" stroke-width="0.85" stroke-linejoin="round" opacity="0.65"/>
<path d="M418.0,353.0 L458.0,353.0 L458.0,385.0 L470.0,393.0 L500.0,397.0 L528.0,399.0 L532.0,400.0 L528.0,345.0" fill="none" stroke="#222" stroke-width="0.85" stroke-linejoin="round" opacity="0.65"/>
<path d="M520.0,297.0 L528.0,315.0 L528.0,345.0" fill="none" stroke="#222" stroke-width="0.85" stroke-linejoin="round" opacity="0.65"/>
<path d="M530.0,354.0 L586.0,352.0" fill="none" stroke="#222" stroke-width="0.85" stroke-linejoin="round" opacity="0.65"/>
<path d="M532.0,400.0 L538.0,410.0 L546.0,446.0 L546.0,464.0" fill="none" stroke="#222" stroke-width="0.85" stroke-linejoin="round" opacity="0.65"/>
<path d="M538.0,410.0 L580.0,409.0" fill="none" stroke="#222" stroke-width="0.85" stroke-linejoin="round" opacity="0.65"/>
<path d="M496.0,148.0 L500.0,187.0 L502.0,197.0 L504.0,237.0 L506.0,255.0 L514.0,275.0 L520.0,297.0" fill="none" stroke="#222" stroke-width="0.85" stroke-linejoin="round" opacity="0.65"/>
<path d="M412.0,243.0 L480.0,245.0 L496.0,251.0 L506.0,255.0" fill="none" stroke="#222" stroke-width="0.85" stroke-linejoin="round" opacity="0.65"/>
<path d="M520.0,285.0 L566.0,284.0" fill="none" stroke="#222" stroke-width="0.85" stroke-linejoin="round" opacity="0.65"/>
<path d="M504.0,237.0 L566.0,236.0" fill="none" stroke="#222" stroke-width="0.85" stroke-linejoin="round" opacity="0.65"/>
<path d="M552.0,183.0 L546.0,199.0 L548.0,215.0 L566.0,236.0 L578.0,255.0 L580.0,260.0 L568.0,290.0 L580.0,310.0 L584.0,325.0 L590.0,340.0 L586.0,352.0 L584.0,376.0 L578.0,395.0 L576.0,410.0 L574.0,440.0 L600.0,442.0 L602.0,452.0" fill="none" stroke="#222" stroke-width="0.85" stroke-linejoin="round" opacity="0.65"/>
<path d="M568.0,240.0 L607.0,240.0" fill="none" stroke="#222" stroke-width="0.85" stroke-linejoin="round" opacity="0.65"/>
<path d="M574.0,183.0 L608.0,199.0" fill="none" stroke="#222" stroke-width="0.85" stroke-linejoin="round" opacity="0.65"/>
<path d="M614.0,260.0 L618.0,316.0 L613.0,329.0" fill="none" stroke="#222" stroke-width="0.85" stroke-linejoin="round" opacity="0.65"/>
<path d="M622.0,262.0 L664.0,256.0" fill="none" stroke="#222" stroke-width="0.85" stroke-linejoin="round" opacity="0.65"/>
<path d="M648.0,258.0 L652.0,306.0" fill="none" stroke="#222" stroke-width="0.85" stroke-linejoin="round" opacity="0.65"/>
<path d="M700.0,247.0 L703.0,286.0" fill="none" stroke="#222" stroke-width="0.85" stroke-linejoin="round" opacity="0.65"/>
<path d="M707.0,243.0 L759.0,232.0 L767.0,240.0 L780.0,245.0" fill="none" stroke="#222" stroke-width="0.85" stroke-linejoin="round" opacity="0.65"/>
<path d="M703.0,281.0 L764.0,271.0" fill="none" stroke="#222" stroke-width="0.85" stroke-linejoin="round" opacity="0.65"/>
<path d="M586.0,352.0 L598.0,339.0 L613.0,329.0 L628.0,321.0 L643.0,319.0 L658.0,321.0 L673.0,324.0 L685.0,319.0 L694.0,310.0 L700.0,299.0 L703.0,286.0" fill="none" stroke="#222" stroke-width="0.85" stroke-linejoin="round" opacity="0.65"/>
<path d="M685.0,319.0 L693.0,322.0 L704.0,320.0 L715.0,312.0 L722.0,298.0 L730.0,290.0 L735.0,282.0 L729.0,279.0 L718.0,281.0 L703.0,281.0" fill="none" stroke="#222" stroke-width="0.85" stroke-linejoin="round" opacity="0.65"/>
<path d="M685.0,319.0 L691.0,330.0 L682.0,339.0" fill="none" stroke="#222" stroke-width="0.85" stroke-linejoin="round" opacity="0.65"/>
<path d="M586.0,352.0 L616.0,345.0 L670.0,341.0 L697.0,336.0 L730.0,332.0 L775.0,327.0" fill="none" stroke="#222" stroke-width="0.85" stroke-linejoin="round" opacity="0.65"/>
<path d="M697.0,336.0 L688.0,350.0 L670.0,365.0 L652.0,369.0" fill="none" stroke="#222" stroke-width="0.85" stroke-linejoin="round" opacity="0.65"/>
<path d="M584.0,376.0 L652.0,369.0" fill="none" stroke="#222" stroke-width="0.85" stroke-linejoin="round" opacity="0.65"/>
<path d="M618.0,374.0 L620.0,448.0" fill="none" stroke="#222" stroke-width="0.85" stroke-linejoin="round" opacity="0.65"/>
<path d="M652.0,369.0 L664.0,410.0 L668.0,436.0" fill="none" stroke="#222" stroke-width="0.85" stroke-linejoin="round" opacity="0.65"/>
<path d="M632.0,438.0 L668.0,436.0 L710.0,432.0 L716.0,434.0" fill="none" stroke="#222" stroke-width="0.85" stroke-linejoin="round" opacity="0.65"/>
<path d="M681.0,369.0 L699.0,389.0 L712.0,399.0 L719.0,410.0" fill="none" stroke="#222" stroke-width="0.85" stroke-linejoin="round" opacity="0.65"/>
<path d="M694.0,360.0 L716.0,362.0 L730.0,362.0 L748.0,372.0" fill="none" stroke="#222" stroke-width="0.85" stroke-linejoin="round" opacity="0.65"/>
<path d="M652.0,369.0 L682.0,368.0" fill="none" stroke="#222" stroke-width="0.85" stroke-linejoin="round" opacity="0.65"/>
<path d="M772.0,180.0 L783.0,214.0 L783.0,241.0" fill="none" stroke="#222" stroke-width="0.85" stroke-linejoin="round" opacity="0.65"/>
<path d="M792.0,171.0 L788.0,196.0 L786.0,214.0" fill="none" stroke="#222" stroke-width="0.85" stroke-linejoin="round" opacity="0.65"/>
<path d="M797.0,169.0 L810.0,205.0" fill="none" stroke="#222" stroke-width="0.85" stroke-linejoin="round" opacity="0.65"/>
<path d="M783.0,214.0 L810.0,209.0" fill="none" stroke="#222" stroke-width="0.85" stroke-linejoin="round" opacity="0.65"/>
<path d="M784.0,225.0 L817.0,219.0" fill="none" stroke="#222" stroke-width="0.85" stroke-linejoin="round" opacity="0.65"/>
<path d="M802.0,223.0 L806.0,232.0" fill="none" stroke="#222" stroke-width="0.85" stroke-linejoin="round" opacity="0.65"/>
<path d="M768.0,241.0 L766.0,254.0 L774.0,260.0 L766.0,271.0" fill="none" stroke="#222" stroke-width="0.85" stroke-linejoin="round" opacity="0.65"/>
<path d="M765.0,271.0 L770.0,290.0 L777.0,290.0" fill="none" stroke="#222" stroke-width="0.85" stroke-linejoin="round" opacity="0.65"/>
<path d="M194.0,113.0 L215.0,124.0 L217.0,110.0 L279.0,124.0 L340.0,134.0 L420.0,144.0 L484.0,147.0 L516.0,147.0 L518.0,140.0 L522.0,141.0 L524.0,150.0 L532.0,153.0 L544.0,153.0 L552.0,157.0 L560.0,159.0 L580.0,160.0 L564.0,171.0 L552.0,183.0 L568.0,179.0 L574.0,183.0 L586.0,175.0 L600.0,168.0 L603.0,170.0 L598.0,176.0 L604.0,177.0 L620.0,179.0 L634.0,175.0 L640.0,181.0 L652.0,186.0 L640.0,189.0 L624.0,191.0 L614.0,197.0 L608.0,199.0 L612.0,204.0 L610.0,212.0 L608.0,222.0 L607.0,234.0 L609.0,248.0 L613.0,259.0 L618.0,262.0 L623.0,259.0 L627.0,252.0 L626.0,238.0 L623.0,225.0 L625.0,212.0 L630.0,204.0 L634.0,199.0 L636.0,191.0 L642.0,191.0 L650.0,196.0 L658.0,202.0 L659.0,215.0 L655.0,223.0 L663.0,217.0 L667.0,217.0 L671.0,229.0 L671.0,239.0 L664.0,248.0 L670.0,256.0 L676.0,258.0 L682.0,257.0 L699.0,247.0 L710.0,238.0 L714.0,230.0 L712.0,222.0 L720.0,218.0 L731.0,218.0 L741.0,212.0 L744.0,206.0 L741.0,201.0 L748.0,193.0 L754.0,183.0 L772.0,179.0 L792.0,173.0 L799.0,167.0 L802.0,147.0 L806.0,129.0 L810.0,128.0 L817.0,126.0 L824.0,133.0 L829.0,149.0 L838.0,155.0 L842.0,162.0 L837.0,169.0 L826.0,180.0 L817.0,187.0 L810.0,201.0 L811.0,212.0 L819.0,219.0 L824.0,218.0 L824.0,223.0 L815.0,227.0 L806.0,232.0 L795.0,237.0 L784.0,241.0 L781.0,245.0 L804.0,237.0 L806.0,240.0 L786.0,252.0 L783.0,255.0 L784.0,261.0 L784.0,268.0 L782.0,274.0 L778.0,280.0 L774.0,276.0 L770.0,273.0 L766.0,271.0 L768.0,280.0 L774.0,286.0 L778.0,290.0 L776.0,297.0 L770.0,300.0 L764.0,295.0 L761.0,288.0 L760.0,282.0 L758.0,280.0 L759.0,286.0 L762.0,297.0 L765.0,302.0 L764.0,307.0 L766.0,312.0 L770.0,316.0 L773.0,321.0 L776.0,328.0 L773.0,333.0 L778.0,336.0 L776.0,344.0 L772.0,349.0 L773.0,353.0 L762.0,358.0 L752.0,369.0 L744.0,374.0 L737.0,387.0 L730.0,398.0 L723.0,407.0 L719.0,416.0 L717.0,425.0 L716.0,434.0 L724.0,446.0 L732.0,460.0 L740.0,474.0 L748.0,490.0 L751.0,504.0 L748.0,516.0 L740.0,521.0 L730.0,514.0 L720.0,502.0 L712.0,490.0 L708.0,482.0 L704.0,478.0 L704.0,470.0 L698.0,460.0 L688.0,450.0 L678.0,445.0 L670.0,452.0 L663.0,455.0 L651.0,446.0 L640.0,446.0 L632.0,448.0 L624.0,446.0 L620.0,450.0 L604.0,452.0 L594.0,454.0 L600.0,455.0 L608.0,457.0 L604.0,464.0 L612.0,472.0 L600.0,470.0 L590.0,472.0 L580.0,470.0 L568.0,464.0 L552.0,462.0 L546.0,464.0 L528.0,468.0 L520.0,476.0 L516.0,480.0 L506.0,484.0 L498.0,490.0 L492.0,504.0 L496.0,520.0 L492.0,528.0 L476.0,520.0 L464.0,510.0 L458.0,498.0 L448.0,482.0 L440.0,470.0 L424.0,464.0 L414.0,464.0 L404.0,472.0 L390.0,460.0 L388.0,452.0 L370.0,432.0 L364.0,424.0 L342.0,424.0 L340.0,429.0 L328.0,428.0 L300.0,424.0 L274.0,408.0 L254.0,396.0 L252.0,393.0 L222.0,390.0 L216.0,380.0 L210.0,368.0 L206.0,362.0 L194.0,356.0 L184.0,346.0 L182.0,336.0 L178.0,324.0 L174.0,312.0 L172.0,300.0 L170.0,290.0 L168.0,284.0 L165.0,276.0 L164.0,260.0 L162.0,248.0 L161.0,240.0 L164.0,234.0 L169.0,216.0 L170.0,209.0 L175.0,191.0 L185.0,171.0 L191.0,150.0 L195.0,137.0Z" fill="none" stroke="#2a2a2a" stroke-width="1.1" stroke-linejoin="round" opacity="0.8"/>
</svg>
<div class="t sm" style="left:177.3px;top:496.5px;">Source: Water Quality Association</div>
<div class="t sm" style="left:177.3px;top:547.3px;">Drawing is only for reference and is not<br>always precise especially with well water.</div>
<div class="t" style="left:553px;top:590px;font-size:20.5px;line-height:22.3px;">gpg = grains per gallon<br>ppm = part per million</div>

<div class="t lg" style="left:175.5px;top:671.9px;">Extremely Hard</div>
<div class="sw" style="top:671px;background:#f00a27"></div>
<div class="t lg" style="left:485px;top:671.9px;">over 14 gpg or over 240 ppm</div>
<div class="hr" style="top:715px"></div>

<div class="t lg" style="left:175.5px;top:733.4px;">Very Hard</div>
<div class="sw" style="top:733px;background:#fd6211"></div>
<div class="t lg" style="left:485px;top:733.4px;">10-14 gpg or 171-239 ppm</div>
<div class="hr" style="top:776px"></div>

<div class="t lg" style="left:175.5px;top:794.9px;">Hard</div>
<div class="sw" style="top:795px;background:#02b0f0"></div>
<div class="t lg" style="left:485px;top:794.9px;">7-10 gpg or 120-170 ppm</div>
<div class="hr" style="top:838px"></div>

<div class="t lg" style="left:175.5px;top:856.4px;">Moderately Hard</div>
<div class="sw" style="top:857px;background:#04a65a"></div>
<div class="t lg" style="left:485px;top:856.4px;">3-7 gpg or 51-119 ppm</div>
<div class="hr" style="top:899px"></div>

<div class="t lg" style="left:175.5px;top:917.9px;">Slightly Hard</div>
<div class="sw" style="top:918px;background:#fef016"></div>
<div class="t lg" style="left:485px;top:917.9px;">under 3 gpg or under 50 ppm</div>
</body></html>
